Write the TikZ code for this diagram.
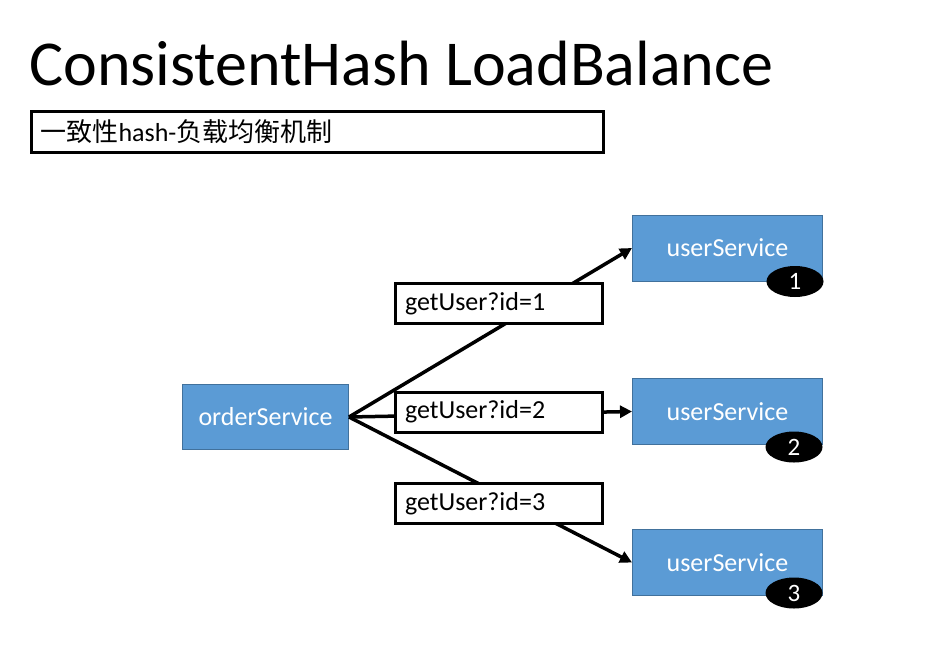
\documentclass[tikz,border=0pt]{standalone}
\usepackage{fontspec}
\setmainfont{Carlito}
\newfontfamily\cjk{Noto Sans CJK SC}
\usetikzlibrary{arrows.meta,shapes.geometric}

\definecolor{svcblue}{HTML}{5B9BD5}
\definecolor{svcedge}{HTML}{41719C}

\tikzset{
  service/.style={fill=svcblue, draw=svcedge, line width=1pt, text=white,
    minimum width=190pt, minimum height=66pt, font=\fontsize{26}{26}\selectfont},
  callbox/.style={draw, fill=white, line width=3pt, minimum height=40pt,
    text width=188pt, inner xsep=9.5pt, align=left, font=\fontsize{26}{26}\selectfont},
  badge/.style={ellipse, fill=black, text=white, minimum width=57pt,
    minimum height=31pt, inner sep=0pt, font=\fontsize{25}{25}\selectfont},
  call/.style={line width=3.5pt, -{Triangle[length=12pt,width=12pt]}}
}

\begin{document}
\begin{tikzpicture}[x=1pt, y=-1pt]
	\useasboundingbox (0,0) rectangle (934,659);

	\node[anchor=base west, inner sep=0pt, font=\fontsize{64}{64}\selectfont] (title) at (29,85) {ConsistentHash LoadBalance};
	\node[draw, line width=3pt, minimum height=41pt, text width=554pt, inner xsep=9pt, align=left,
	      font=\fontsize{26}{26}\selectfont] (sub) at (317.5,132) {{\cjk 一致性}hash-{\cjk 负载均衡机制}};

	\node[service, minimum width=166pt, minimum height=65pt] (os) at (265.5,417) {orderService};

	\node[service] (us1) at (727.5,248) {userService};
	\node[service] (us2) at (727.5,411.5) {userService};
	\node[service] (us3) at (727.5,562.5) {userService};

	\node[badge] (n1) at ([xshift=-28pt]us1.south east) {1};
	\node[badge] (n2) at ([xshift=-29pt, yshift=-2pt]us2.south east) {2};
	\node[badge] (n3) at ([xshift=-29pt, yshift=3pt]us3.south east) {3};

	\draw[call] (os.east) -- (us1.west);
	\draw[call] (os.east) -- (us2.west);
	\draw[call] (os.east) -- (us3.west);

	% request labels sit on top of the lines
	\node[callbox] (c1) at (499,303.5) {getUser?id=1};
	\node[callbox] (c2) at (499,412) {getUser?id=2};
	\node[callbox] (c3) at (499,503.5) {getUser?id=3};
\end{tikzpicture}
\end{document}
